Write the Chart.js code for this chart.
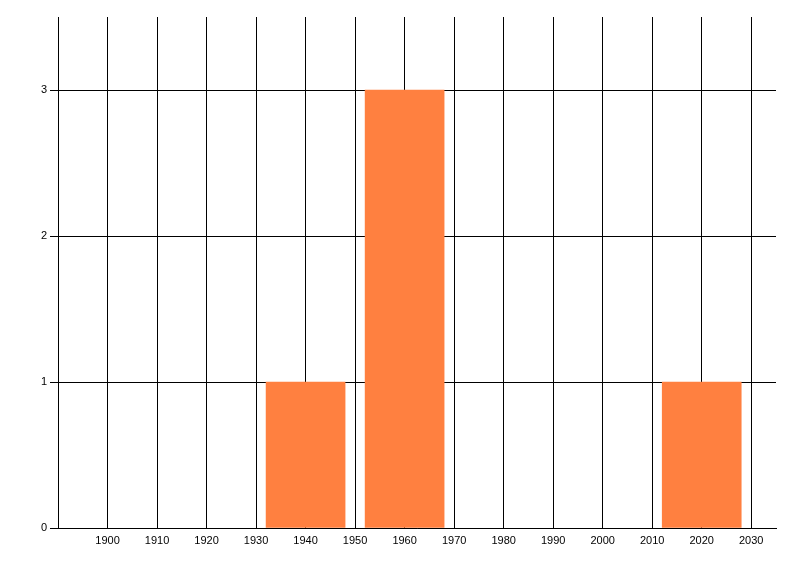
<!DOCTYPE html>
<html>
<head>
<meta charset="utf-8">
<script src="https://cdn.jsdelivr.net/npm/chart.js@4/dist/chart.umd.min.js"></script>
<style>
  body { margin: 0; background: #fff; }
</style>
</head>
<body>
<canvas id="myChart" width="800" height="576"></canvas>
<script>
let years = [1940, 1960, 2020];
let counts = [1, 3, 1];
let xTicks = [1900, 1910, 1920, 1930, 1940, 1950, 1960, 1970, 1980, 1990, 2000, 2010, 2020, 2030];
let yTicks = [0, 1, 2, 3];

let points = [];
years.forEach((year, i) => {
    points.push({ x: year, y: counts[i] });
});

const ctx = document.getElementById('myChart');
const chart = new Chart(ctx, {
    type: 'bar',
    data: {
        datasets: [{
            data: points,
            backgroundColor: '#ff8040',
            borderWidth: 0,
            barThickness: 79,
        }]
    },
    options: {
        responsive: false,
        animation: false,
        layout: {
            padding: { top: 17, right: 24, left: 0, bottom: 0 }
        },
        plugins: {
            legend: { display: false },
            tooltip: { enabled: false },
        },
        scales: {
            x: {
                type: 'linear',
                offset: false,
                min: 1890,
                max: 2035,
                afterBuildTicks: axis => {
                    axis.ticks = xTicks.map(v => ({ value: v }));
                },
                afterFit: axis => { axis.height = 48; },
                grid: { color: '#000', lineWidth: 1, drawTicks: false, offset: false },
                border: { color: '#000', width: 1 },
                ticks: {
                    color: '#000',
                    padding: 6,
                    maxRotation: 0,
                    autoSkip: false,
                    font: { family: 'Liberation Sans', size: 11 },
                    callback: v => String(v),
                }
            },
            y: {
                min: 0,
                max: 3.5,
                afterBuildTicks: axis => {
                    axis.ticks = yTicks.map(v => ({ value: v }));
                },
                afterFit: axis => { axis.width = 58; },
                grid: { color: '#000', lineWidth: 1, drawTicks: true, tickLength: 8 },
                border: { color: '#000', width: 1 },
                ticks: {
                    color: '#000',
                    padding: 3,
                    font: { family: 'Liberation Sans', size: 11 },
                }
            }
        }
    },
});
</script>
</body>
</html>
